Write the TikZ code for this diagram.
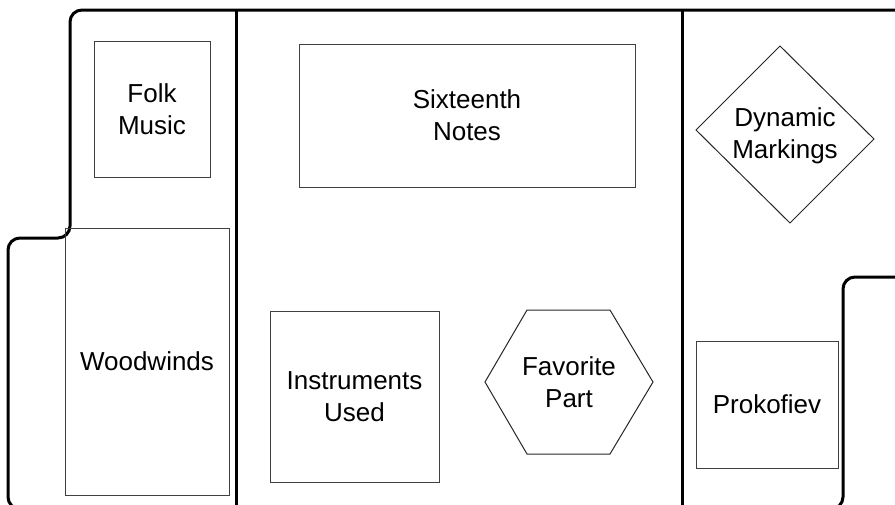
\documentclass[tikz,border=0pt]{standalone}
\usepackage{fontspec}
\setmainfont{Liberation Sans}
\begin{document}
\begin{tikzpicture}[x=1pt,y=-1pt,
  heavy/.style={line width=3pt,black,rounded corners=12pt},
  box/.style={draw=black!75,line width=1pt,inner sep=0pt,rectangle},
  shapeline/.style={draw=black!85,line width=1pt},
  lbl/.style={inner sep=0pt,align=center,font=\fontsize{26}{32}\selectfont}]
\useasboundingbox (0,0) rectangle (895,504);
\clip (0,0) rectangle (895,504);
% heavy outlines
\draw[heavy] (236,509) -- (8,509) -- (8,238) -- (70,238) -- (70,10) -- (900,10);
\draw[heavy] (682,509) -- (843,509) -- (843,277) -- (900,277);
\draw[line width=3pt] (236,10) -- (236,509);
\draw[line width=3pt] (682,10) -- (682,509);
% rectangles
\node[box,minimum width=116pt,minimum height=136pt] (folk) at (152,109) {};
\node[lbl] (folkt) at (folk.center) {Folk\\Music};
\node[box,minimum width=164pt,minimum height=267pt] (wood) at (147,361.5) {};
\node[lbl] (woodt) at (wood.center) {Woodwinds};
\node[box,minimum width=336pt,minimum height=143pt] (six) at (467,115.5) {};
\node[lbl] (sixt) at (six.center) {Sixteenth\\Notes};
\node[box,minimum width=169pt,minimum height=171pt] (inst) at (354.5,396.5) {};
\node[lbl] (instt) at (inst.center) {Instruments\\Used};
\node[box,minimum width=142pt,minimum height=127pt] (prok) at (767,404.5) {};
\node[lbl] (prokt) at (prok.center) {Prokofiev};
% hexagon
\draw[shapeline] (485,382) -- (527,310) -- (610,310) -- (653,382) -- (610,454) -- (527,454) -- cycle;
\node[lbl] (fav) at (569,382) {Favorite\\Part};
% diamond
\draw[shapeline] (780,46) -- (874,139) -- (790,223) -- (696,130) -- cycle;
\node[lbl] (dyn) at (785,136) {Dynamic\\Markings};
\end{tikzpicture}
\end{document}
